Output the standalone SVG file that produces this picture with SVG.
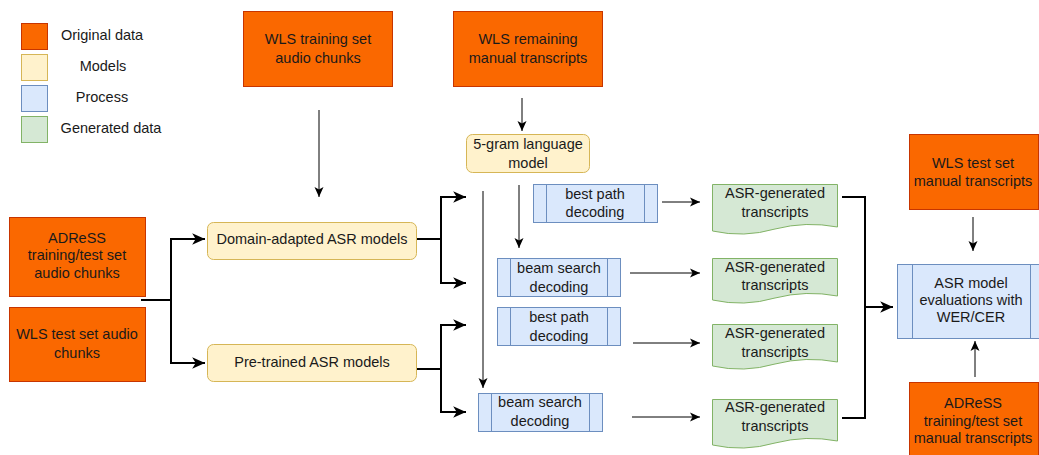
<svg xmlns="http://www.w3.org/2000/svg" width="1039" height="455" viewBox="0 0 1039 455">
<defs>
<style>
text{font-family:"Liberation Sans",Arial,Helvetica,sans-serif;font-size:14.5px;fill:#1a1a1a;text-anchor:middle}
.orig{fill:#fa6800;stroke:#c73500;stroke-width:1}
.model{fill:#fff2cc;stroke:#d6b656;stroke-width:1}
.proc{fill:#dae8fc;stroke:#6c8ebf;stroke-width:1}
.gen{fill:#d5e8d4;stroke:#82b366;stroke-width:1}
.thin{fill:none;stroke:#000;stroke-width:1}
.thick{fill:none;stroke:#000;stroke-width:2}
.a1{marker-end:url(#ah1)}
.a2{marker-end:url(#ah2)}
</style>
<marker id="ah1" markerUnits="userSpaceOnUse" markerWidth="12" markerHeight="10" refX="10" refY="4.5" orient="auto" viewBox="0 0 12 9">
<path d="M0,0 L10,4.5 L0,9 L2.5,4.5 z" fill="#000"/>
</marker>
<marker id="ah2" markerUnits="userSpaceOnUse" markerWidth="14" markerHeight="12" refX="11" refY="5" orient="auto" viewBox="0 0 12 10">
<path d="M0,0 L11,5 L0,10 L3,5 z" fill="#000"/>
</marker>
</defs>
<rect width="1039" height="455" fill="#fff"/>

<g id="legend">
<rect class="orig" x="21.5" y="23.5" width="26" height="26"/>
<rect class="model" x="21.5" y="54.5" width="26" height="26"/>
<rect class="proc" x="21.5" y="85.5" width="26" height="26"/>
<rect class="gen" x="21.5" y="116.5" width="26" height="26"/>
<text x="102" y="40">Original data</text>
<text x="103" y="71">Models</text>
<text x="102" y="102">Process</text>
<text x="111" y="133">Generated data</text>
</g>

<g id="connectors">
<path class="thick a2" d="M141,300 H171 V239 H205"/>
<path class="thick a2" d="M141,300 H171 V363 H205"/>
<path class="thick a2" d="M417,239 H441 V197 H466"/>
<path class="thick a2" d="M417,239 H441 V283 H466"/>
<path class="thick a2" d="M417,369 H441 V325 H466"/>
<path class="thick a2" d="M441,369 V412 H466"/>
<path class="thin a1" d="M319,110 V197"/>
<path class="thin a1" d="M522,98 V131"/>
<path class="thin a1" d="M519,185 V248"/>
<path class="thin a1" d="M483,191 V388"/>
<path class="thin a1" d="M662,202 H700"/>
<path class="thin a1" d="M630,273 H700"/>
<path class="thin a1" d="M633,343 H700"/>
<path class="thin a1" d="M632,417 H700"/>
<path class="thick" d="M842,197 H865 V418 H842"/>
<path class="thick a2" d="M865,307 H893"/>
<path class="thin a1" d="M973,217 V251"/>
<path class="thin a1" d="M975,377 V341"/>
</g>

<g id="wls-train-audio">
<rect class="orig" x="243.5" y="11.5" width="149" height="75"/>
<text x="318" y="44">WLS training set</text>
<text x="318" y="63">audio chunks</text>
</g>

<g id="wls-remaining">
<rect class="orig" x="453.5" y="11.5" width="149" height="75"/>
<text x="528" y="44">WLS remaining</text>
<text x="528" y="63">manual transcripts</text>
</g>

<g id="lm">
<rect class="model" x="466.5" y="134.5" width="123" height="38" rx="6"/>
<text x="528" y="149">5-gram language</text>
<text x="528" y="168">model</text>
</g>

<g id="adress-audio">
<rect class="orig" x="9.5" y="217.5" width="136" height="79"/>
<text x="77" y="243">ADReSS</text>
<text x="77" y="260">training/test set</text>
<text x="77" y="278">audio chunks</text>
</g>

<g id="wls-test-audio">
<rect class="orig" x="9.5" y="307.5" width="136" height="74"/>
<text x="77" y="339">WLS test set audio</text>
<text x="77" y="358">chunks</text>
</g>

<g id="domain-adapted">
<rect class="model" x="207.5" y="222.5" width="209" height="37" rx="6"/>
<text x="312" y="244">Domain-adapted ASR models</text>
</g>

<g id="pretrained">
<rect class="model" x="207.5" y="344.5" width="209" height="37" rx="6"/>
<text x="312" y="367">Pre-trained ASR models</text>
</g>

<g id="best-path-1">
<rect class="proc" x="533.5" y="184.5" width="124" height="38"/>
<path class="proc" d="M546.5,184.5 V222.5 M644.5,184.5 V222.5" fill="none"/>
<text x="595" y="199">best path</text>
<text x="595" y="217">decoding</text>
</g>

<g id="beam-1">
<rect class="proc" x="497.5" y="258.5" width="123" height="38"/>
<path class="proc" d="M510.5,258.5 V296.5 M607.5,258.5 V296.5" fill="none"/>
<text x="559" y="273">beam search</text>
<text x="559" y="292">decoding</text>
</g>

<g id="best-path-2">
<rect class="proc" x="497.5" y="307.5" width="123" height="38"/>
<path class="proc" d="M510.5,307.5 V345.5 M607.5,307.5 V345.5" fill="none"/>
<text x="559" y="322">best path</text>
<text x="559" y="341">decoding</text>
</g>

<g id="beam-2">
<rect class="proc" x="478.5" y="393.5" width="124" height="38"/>
<path class="proc" d="M491.5,393.5 V431.5 M589.5,393.5 V431.5" fill="none"/>
<text x="540" y="407">beam search</text>
<text x="540" y="426">decoding</text>
</g>

<g id="doc-1">
<path class="gen" d="M712.5,184.5 H837.5 V227 Q806,221 775,229 Q744,238 712.5,231 Z"/>
<text x="775" y="198">ASR-generated</text>
<text x="775" y="217">transcripts</text>
</g>
<g id="doc-2">
<path class="gen" d="M712.5,258.5 H837.5 V296 Q806,290 775,298 Q744,307 712.5,300 Z"/>
<text x="775" y="272">ASR-generated</text>
<text x="775" y="290">transcripts</text>
</g>
<g id="doc-3">
<path class="gen" d="M712.5,324.5 H837.5 V362 Q806,356 775,364 Q744,373 712.5,366 Z"/>
<text x="775" y="338">ASR-generated</text>
<text x="775" y="357">transcripts</text>
</g>
<g id="doc-4">
<path class="gen" d="M712.5,399.5 H837.5 V441 Q806,435 775,443 Q744,452 712.5,445 Z"/>
<text x="775" y="412">ASR-generated</text>
<text x="775" y="431">transcripts</text>
</g>

<g id="wls-test-manual">
<rect class="orig" x="909.5" y="134.5" width="129" height="75"/>
<text x="973" y="168">WLS test set</text>
<text x="973" y="186">manual transcripts</text>
</g>

<g id="evaluation">
<rect class="proc" x="897.5" y="264.5" width="148" height="74"/>
<path class="proc" d="M912.5,264.5 V338.5 M1030.5,264.5 V338.5" fill="none"/>
<text x="971" y="288">ASR model</text>
<text x="971" y="305">evaluations with</text>
<text x="971" y="322">WER/CER</text>
</g>

<g id="adress-manual">
<rect class="orig" x="909.5" y="382.5" width="129" height="80"/>
<text x="973" y="408">ADReSS</text>
<text x="973" y="426">training/test set</text>
<text x="973" y="443">manual transcripts</text>
</g>
</svg>
